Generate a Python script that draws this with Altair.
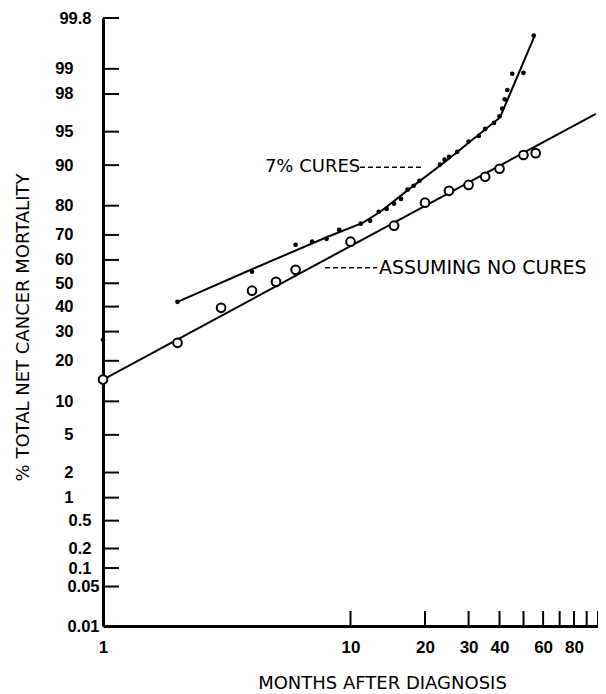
import altair as alt
import pandas as pd
from statistics import NormalDist

# ---- data ----
cure_months = [1, 2, 4, 6, 7, 8, 9, 11, 12, 13, 14, 15, 16, 17, 18, 19, 23, 24, 25, 27,
               30, 33, 35, 38, 40, 41, 42, 43, 45, 50, 55]
cure_pct = [27.0, 42.0, 55.0, 66.2, 67.4, 68.5, 71.9, 74.1, 75.1, 78.1, 79.0, 80.6, 82.0,
            84.5, 85.5, 86.7, 90.1, 91.0, 91.5, 92.3, 93.8, 94.5, 95.3, 95.9, 96.5, 97.1,
            97.7, 98.2, 98.85, 98.88, 99.64]

nocure_months = [1, 2, 3, 4, 5, 6, 10, 15, 20, 25, 30, 35, 40, 50, 56]
nocure_pct = [14.8, 25.9, 39.5, 46.8, 50.6, 55.8, 67.4, 73.4, 80.9, 84.2, 85.7, 87.6,
              89.3, 91.8, 92.1]

cure_fit_months = [2, 3.87, 8.09, 11.2, 13.2, 16.9, 24.4, 40.2, 55.5]
cure_fit_pct = [42.0, 55.4, 69.3, 74.4, 78.1, 84.2, 90.8, 96.4, 99.64]

nocure_fit_months = [1, 98]
nocure_fit_pct = [14.8, 96.7]

y_tick_pct = [99.8, 99, 98, 95, 90, 80, 70, 60, 50, 40, 30, 20, 10, 5, 2, 1,
              0.5, 0.2, 0.1, 0.05, 0.01]
x_tick_months = [10, 20, 30, 40, 50, 60, 70, 80, 90, 100]
x_label_months = [1, 10, 20, 30, 40, 60, 80]

annot_text = ["7% CURES", "ASSUMING NO CURES"]
annot_text_months = [4.51, 13.04]
annot_pct = [89.6, 56.7]
leader_from = [10.92, 7.89]
leader_to = [19.45, 12.8]

# ---- helpers ----
nd = NormalDist()
z_of = lambda p: nd.inv_cdf(p / 100.0)
y_vals = [z_of(p) for p in y_tick_pct]
zmin, zmax = z_of(0.01), z_of(99.8)

W, H = 495, 608
TICK_FONT = "Liberation Sans Narrow, Liberation Sans, Arial, sans-serif"
TEXT_FONT = "DejaVu Sans, sans-serif"

calc = "quantileNormal(datum.pct / 100)"
xscale = alt.Scale(type="log", domain=[1, 100], nice=False)
yscale = alt.Scale(domain=[zmin, zmax], nice=False, zero=False)

label_expr_y = (
    "datum.value < -3.2 ? format(cumulativeNormal(datum.value) * 100, '.2f') : "
    "(abs(datum.value) > 2.5 ? format(cumulativeNormal(datum.value) * 100, '.1f') : "
    "format(cumulativeNormal(datum.value) * 100, '.0f'))"
)

x_axis = alt.Axis(
    values=x_label_months,
    labelExpr="format(datum.value, 'd')",
    ticks=False, tickSize=0, grid=False,
    domainColor="black", domainWidth=3,
    labelFont=TICK_FONT, labelFontSize=17, labelFontWeight="bold", labelColor="black",
    labelPadding=13, labelOverlap=False, labelFlush=False,
    title="MONTHS AFTER DIAGNOSIS", titleFont=TEXT_FONT, titleFontSize=18,
    titleFontWeight="normal", titleColor="black",
    titleX=279, titleY=57, titleBaseline="middle", titleAlign="center",
)
y_axis = alt.Axis(
    values=y_vals,
    labelExpr=label_expr_y,
    ticks=False, tickSize=0, grid=False,
    domainColor="black", domainWidth=3,
    labelFont=TICK_FONT, labelFontSize=16.5, labelFontWeight="bold", labelColor="black",
    labelPadding={"condition": [{"test": "datum.value < -3.2", "value": 4},
                                {"test": "abs(datum.value) > 2.5", "value": 12}],
                  "value": 30},
    labelOverlap=False, labelFlush=False,
    title="% TOTAL NET CANCER MORTALITY", titleFont=TEXT_FONT, titleFontSize=18,
    titleFontWeight="normal", titleColor="black",
    titleX=-80, titleY=309, titleBaseline="middle", titleAlign="center",
)

X = lambda f="months:Q": alt.X(f, scale=xscale, axis=x_axis)
Y = lambda f="z:Q": alt.Y(f, scale=yscale, axis=y_axis)

cure_df = pd.DataFrame({"months": cure_months, "pct": cure_pct})
nocure_df = pd.DataFrame({"months": nocure_months, "pct": nocure_pct})
cure_fit_df = pd.DataFrame({"months": cure_fit_months, "pct": cure_fit_pct})
nocure_fit_df = pd.DataFrame({"months": nocure_fit_months, "pct": nocure_fit_pct})
ytick_df = pd.DataFrame({"pct": [p for p in y_tick_pct if p > 0.01]})
xtick_df = pd.DataFrame({"months": x_tick_months, "pct": [50] * len(x_tick_months)})
annot_df = pd.DataFrame({"label": annot_text, "months": annot_text_months, "pct": annot_pct,
                         "m1": leader_from, "m2": leader_to})

y_ticks = alt.Chart(ytick_df).mark_rule(color="black", strokeWidth=2).transform_calculate(
    z=calc
).encode(
    y=Y(),
    x=alt.value(0), x2=alt.value(16),
)

x_ticks = alt.Chart(xtick_df).mark_rule(color="black", strokeWidth=2).encode(
    x=X(),
    y=alt.value(H), y2=alt.value(H - 15),
)

def fit_line(df):
    return alt.Chart(df).mark_line(color="black", strokeWidth=2, clip=True).transform_calculate(
        z=calc
    ).encode(x=X(), y=Y())

cure_pts = alt.Chart(cure_df).mark_circle(color="black", size=22, opacity=1).transform_calculate(
    z=calc
).encode(x=X(), y=Y())

nocure_pts = alt.Chart(nocure_df).mark_point(
    shape="circle", size=75, stroke="black", strokeWidth=2, fill="white", filled=False,
    fillOpacity=1, opacity=1
).transform_calculate(z=calc).encode(x=X(), y=Y())

leaders = alt.Chart(annot_df).mark_rule(color="black", strokeWidth=1.5, strokeDash=[5, 3]).transform_calculate(
    z=calc
).encode(x=X("m1:Q"), x2="m2:Q", y=Y())

labels = alt.Chart(annot_df).mark_text(
    align="left", baseline="middle", font=TEXT_FONT, fontSize=18, color="black"
).transform_calculate(z=calc).encode(
    x=X(), y=Y(), text="label:N",
    size=alt.Size("label:N", scale=alt.Scale(domain=annot_text, range=[18, 19]), legend=None),
)

chart = alt.layer(
    fit_line(nocure_fit_df), fit_line(cure_fit_df), y_ticks, x_ticks,
    leaders, labels, cure_pts, nocure_pts,
).properties(
    width=W, height=H,
    padding={"left": 95, "top": 10, "right": 0, "bottom": 68},
    autosize=alt.AutoSizeParams(type="none"),
    background="white",
).configure_view(strokeWidth=0)

chart.save("out.html", embed_options={"renderer": "svg", "actions": False})
